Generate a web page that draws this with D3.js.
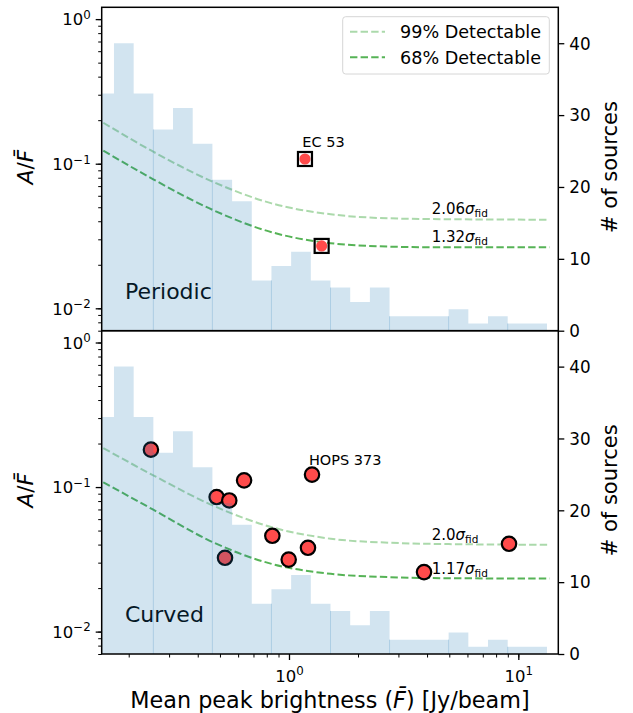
<!DOCTYPE html>
<html>
<head>
<meta charset="utf-8">
<script src="https://cdn.jsdelivr.net/npm/d3@7"></script>
<style>
  body { margin: 0; background: #fff; }
  svg { display: block; font-family: "DejaVu Sans", sans-serif; }
</style>
</head>
<body>
<svg id="chart" width="633" height="713"></svg>
<script>
// histogram of all sources (same in both panels)
const binEdges = [0.1416, 0.1725, 0.2102, 0.2562, 0.3121, 0.3803, 0.4634, 0.5647,
  0.6881, 0.8385, 1.0218, 1.245, 1.517, 1.849, 2.253, 2.745, 3.345, 4.076,
  4.967, 6.053, 7.375, 8.988, 10.95, 13.34];
const sourceCounts = [33, 40, 33, 28, 31, 26, 21, 18, 7, 9, 11, 7, 6, 4, 6, 2, 2, 2, 3, 1, 2, 1, 1];

// detectability curves
const curveF = [0.155, 0.256, 0.465, 0.84, 1.52, 2.75, 4.97, 13.7];
const periodic99 = [0.192, 0.121, 0.0751, 0.0532, 0.0447, 0.0419, 0.0413, 0.0410];
const periodic68 = [0.123, 0.078, 0.0479, 0.0336, 0.0282, 0.0267, 0.0264, 0.0264];
const curved99 = [0.186, 0.1205, 0.0746, 0.0528, 0.0439, 0.0412, 0.0403, 0.0399];
const curved68 = [0.108, 0.0697, 0.0416, 0.0294, 0.0251, 0.0238, 0.0234, 0.0233];

// detected sources
const periodicF = [1.174, 1.388];
const periodicA = [0.1078, 0.027];
const curvedF = [0.250, 0.4836, 0.549, 0.637, 0.526, 0.846, 0.997, 1.21, 1.26, 3.88, 9.11];
const curvedA = [0.1815, 0.0853, 0.0808, 0.1113, 0.0324, 0.046, 0.0315, 0.038, 0.122, 0.0258, 0.0405];

const periodicSigma = ["2.06", "1.32"];
const curvedSigma = ["2.0", "1.17"];
const legendLabels = ["99% Detectable", "68% Detectable"];

const xDomain = [0.1525, 14.94];
const aDomain = [0.007, 1.207];
const countDomain = [0, 45];
const xTicks = [1, 10];
const xTickExp = ["0", "1"];
const yTicks = [0.01, 0.1, 1];
const yTickExp = ["\u22122", "\u22121", "0"];
const countTicks = [0, 10, 20, 30, 40];

const svg = d3.select("#chart");
svg.append("rect").attr("width", 633).attr("height", 713).attr("fill", "#fff");

const left = 101.7, right = 558.3;
const x = d3.scaleLog().domain(xDomain).range([left, right]);

const green = "#2ca02c";
const blue = "#1f77b4";
const font = "DejaVu Sans";

function superscriptLabel(textSel, exp) {
  textSel.text(null);
  textSel.append("tspan").text("10");
  textSel.append("tspan").attr("dy", -6.5).attr("font-size", 11.8).text(exp);
}

function sigmaLabel(g, xPos, yPos, value) {
  const t = g.append("text")
    .attr("x", xPos)
    .attr("y", yPos)
    .attr("font-size", 15)
    .attr("fill", "#000");
  t.append("tspan").text(value);
  t.append("tspan").attr("font-style", "italic").text("\u03c3");
  t.append("tspan").attr("dy", 3).attr("font-size", 10.5).text("fid");
}

function drawPanel(top, bottom, cfg) {
  const g = svg.append("g");
  const y = d3.scaleLog().domain(aDomain).range([bottom, top]);
  const yc = d3.scaleLinear().domain(countDomain).range([bottom, top]);

  const line = d3.line()
    .x((d, i) => x(curveF[i]))
    .y(d => y(d))
    .curve(d3.curveMonotoneX);

  g.append("path")
    .datum(cfg.curve99)
    .attr("d", line)
    .attr("fill", "none")
    .attr("stroke", green)
    .attr("stroke-opacity", 0.4)
    .attr("stroke-width", 2)
    .attr("stroke-dasharray", "7.4,3.2");

  g.append("path")
    .datum(cfg.curve68)
    .attr("d", line)
    .attr("fill", "none")
    .attr("stroke", green)
    .attr("stroke-opacity", 0.8)
    .attr("stroke-width", 2)
    .attr("stroke-dasharray", "7.4,3.2");

  const pts = cfg.pointsF.map((f, i) => ({ f: f, a: cfg.pointsA[i] }));
  if (cfg.marker === "square") {
    g.selectAll("circle.pt").data(pts).join("circle")
      .attr("class", "pt")
      .attr("cx", d => x(d.f))
      .attr("cy", d => y(d.a))
      .attr("r", 5.6)
      .attr("fill", "#ff4b4b");
    g.selectAll("rect.pt").data(pts).join("rect")
      .attr("class", "pt")
      .attr("x", d => x(d.f) - 7)
      .attr("y", d => y(d.a) - 7)
      .attr("width", 14)
      .attr("height", 14)
      .attr("fill", "none")
      .attr("stroke", "#000")
      .attr("stroke-width", 2.2);
  } else {
    g.selectAll("circle.pt").data(pts).join("circle")
      .attr("class", "pt")
      .attr("cx", d => x(d.f))
      .attr("cy", d => y(d.a))
      .attr("r", 7.2)
      .attr("fill", "#ff4b4b")
      .attr("stroke", "#000")
      .attr("stroke-width", 2.2);
  }

  g.append("text")
    .attr("x", x(cfg.nameAt[0]))
    .attr("y", y(cfg.nameAt[1]))
    .attr("font-size", 14.5)
    .text(cfg.sourceName);

  sigmaLabel(g, x(4.19), y(cfg.sigmaA[0]), cfg.sigma[0]);
  sigmaLabel(g, x(4.19), y(cfg.sigmaA[1]), cfg.sigma[1]);

  g.append("text")
    .attr("x", left + 0.051 * (right - left))
    .attr("y", bottom - 0.099 * (bottom - top))
    .attr("font-size", 22)
    .text(cfg.title);

  if (cfg.legend) {
    const lg = g.append("g");
    lg.append("rect")
      .attr("x", 342.7).attr("y", 16.7)
      .attr("width", 206.6).attr("height", 57.3)
      .attr("rx", 3)
      .attr("fill", "#fff").attr("fill-opacity", 0.8)
      .attr("stroke", "#d6d6d6").attr("stroke-width", 1);
    legendLabels.forEach((label, i) => {
      const ly = 31.7 + i * 25.6;
      lg.append("line")
        .attr("x1", 350).attr("x2", 385)
        .attr("y1", ly).attr("y2", ly)
        .attr("stroke", green)
        .attr("stroke-opacity", i === 0 ? 0.4 : 0.8)
        .attr("stroke-width", 2)
        .attr("stroke-dasharray", "7.4,3.2");
      lg.append("text")
        .attr("x", 400).attr("y", ly + 6.2)
        .attr("font-size", 17.6)
        .text(label);
    });
  }

  // histogram on the twin axis, drawn over everything
  const histData = sourceCounts.map((c, i) => ({ e: binEdges[i], c: c }));
  histData.push({ e: binEdges[binEdges.length - 1], c: 0 });
  const area = d3.area()
    .x(d => Math.max(x(d.e), left))
    .y0(yc(0))
    .y1(d => yc(d.c))
    .curve(d3.curveStepAfter);
  g.append("path")
    .datum(histData)
    .attr("d", area)
    .attr("fill", blue)
    .attr("fill-opacity", 0.2);

  const seams = d3.range(3, sourceCounts.length, 3);
  g.selectAll("line.seam").data(seams).join("line")
    .attr("class", "seam")
    .attr("x1", i => x(binEdges[i]))
    .attr("x2", i => x(binEdges[i]))
    .attr("y1", yc(0))
    .attr("y2", i => yc(Math.min(sourceCounts[i - 1], sourceCounts[i])))
    .attr("stroke", blue)
    .attr("stroke-opacity", 0.2)
    .attr("stroke-width", 1);

  // left axis
  const yMinor = g.append("g")
    .attr("transform", `translate(${left},0)`)
    .call(d3.axisLeft(y).tickValues(y.ticks()).tickSize(3.5).tickFormat(""));
  yMinor.select(".domain").remove();
  yMinor.selectAll("line").attr("stroke-width", 1);

  const yMajor = g.append("g")
    .attr("transform", `translate(${left},0)`)
    .call(d3.axisLeft(y).tickValues(yTicks).tickSize(6).tickPadding(5));
  yMajor.select(".domain").remove();
  yMajor.attr("font-family", font).attr("font-size", 16.5);
  yMajor.selectAll("line").attr("stroke-width", 1.3);
  yMajor.selectAll("text")
    .attr("fill", "#000")
    .attr("dy", 5.8)
    .each(function (d, i) { superscriptLabel(d3.select(this), yTickExp[i]); });

  // right axis
  const yRight = g.append("g")
    .attr("transform", `translate(${right},0)`)
    .call(d3.axisRight(yc).tickValues(countTicks).tickSize(6).tickPadding(5));
  yRight.select(".domain").remove();
  yRight.attr("font-family", font).attr("font-size", 16.8);
  yRight.selectAll("line").attr("stroke-width", 1.3);
  yRight.selectAll("text").attr("fill", "#000").attr("dy", 5.8);

  if (cfg.xAxis) {
    const xMinor = g.append("g")
      .attr("transform", `translate(0,${bottom})`)
      .call(d3.axisBottom(x).tickValues(x.ticks()).tickSize(3.5).tickFormat(""));
    xMinor.select(".domain").remove();
    xMinor.selectAll("line").attr("stroke-width", 1);

    const xMajor = g.append("g")
      .attr("transform", `translate(0,${bottom})`)
      .call(d3.axisBottom(x).tickValues(xTicks).tickSize(6));
    xMajor.select(".domain").remove();
    xMajor.attr("font-family", font).attr("font-size", 16.5);
    xMajor.selectAll("line").attr("stroke-width", 1.3);
    xMajor.selectAll("text")
      .attr("fill", "#000")
      .attr("y", 27.7)
      .attr("dy", 0)
      .each(function (d, i) { superscriptLabel(d3.select(this), xTickExp[i]); });
  }

  // y labels
  const midY = (top + bottom) / 2;
  const yl = g.append("text")
    .attr("transform", `translate(33,${midY - 2}) rotate(-90)`)
    .attr("text-anchor", "middle")
    .attr("font-size", 21.5);
  yl.append("tspan").attr("font-style", "italic").text("A");
  yl.append("tspan").text("/");
  yl.append("tspan").attr("font-style", "italic").text("F\u0304");

  g.append("text")
    .attr("transform", `translate(617,${midY - 2}) rotate(-90)`)
    .attr("text-anchor", "middle")
    .attr("font-size", 21)
    .text("# of sources");

  // frame
  g.append("rect")
    .attr("x", left).attr("y", top)
    .attr("width", right - left).attr("height", bottom - top)
    .attr("fill", "none")
    .attr("stroke", "#000")
    .attr("stroke-width", 1.5);
}

drawPanel(7.3, 330.7, {
  curve99: periodic99,
  curve68: periodic68,
  pointsF: periodicF,
  pointsA: periodicA,
  marker: "square",
  sourceName: "EC 53",
  nameAt: [1.143, 0.1298],
  sigma: periodicSigma,
  sigmaA: [0.0447, 0.0289],
  title: "Periodic",
  legend: true,
  xAxis: false
});

drawPanel(330.7, 654, {
  curve99: curved99,
  curve68: curved68,
  pointsF: curvedF,
  pointsA: curvedA,
  marker: "circle",
  sourceName: "HOPS 373",
  nameAt: [1.222, 0.143],
  sigma: curvedSigma,
  sigmaA: [0.0427, 0.0251],
  title: "Curved",
  legend: false,
  xAxis: true
});

const xl = svg.append("text")
  .attr("x", (left + right) / 2)
  .attr("y", 708.3)
  .attr("text-anchor", "middle")
  .attr("font-size", 22.3);
xl.append("tspan").text("Mean peak brightness (");
xl.append("tspan").attr("font-style", "italic").text("F\u0304");
xl.append("tspan").text(") [Jy/beam]");
</script>
</body>
</html>
